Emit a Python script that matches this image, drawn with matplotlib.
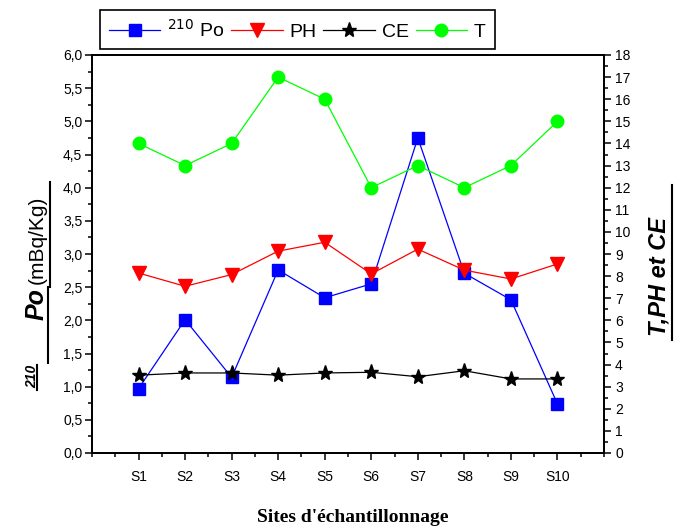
import numpy as np
import matplotlib
matplotlib.use('Agg')
import matplotlib.pyplot as plt
from matplotlib.lines import Line2D
from matplotlib.ticker import MultipleLocator, FuncFormatter

plt.rcParams['font.family'] = 'Liberation Sans'

# data
sites = ['S1', 'S2', 'S3', 'S4', 'S5', 'S6', 'S7', 'S8', 'S9', 'S10']
po210 = [0.97, 2.01, 1.14, 2.76, 2.34, 2.55, 4.75, 2.71, 2.31, 0.74]
ph = [8.14, 7.54, 8.07, 9.13, 9.53, 8.10, 9.22, 8.27, 7.87, 8.55]
ce = [3.52, 3.62, 3.62, 3.52, 3.62, 3.65, 3.45, 3.72, 3.35, 3.35]
temp = [14, 13, 14, 17, 16, 12, 13, 12, 13, 15]

W, H = 683, 527
fig = plt.figure(figsize=(W / 100, H / 100), dpi=100)

def fx(px):
    return px / W

def fy(py):
    return 1 - py / H

ax = fig.add_axes([fx(92), fy(453), fx(604) - fx(92), fy(55) - fy(453)])
ax2 = ax.twinx()

x = np.arange(1, len(sites) + 1)

l_po, = ax.plot(x, po210, '-s', color='#0000ff', lw=0.9, ms=8.5, mec='#0000ff')
l_ph, = ax2.plot(x, ph, '-v', color='#ff0000', lw=0.9, ms=9.5)
l_ce, = ax2.plot(x, ce, '-*', color='black', lw=0.9, ms=11)
l_t, = ax2.plot(x, temp, '-o', color='#00ff00', lw=0.9, ms=9, mec='#00ff00')

ax.set_xlim(0, 11)
ax.set_ylim(0, 6)
ax2.set_ylim(0, 18)

ax.set_xticks(x)
ax.set_xticklabels(sites)
ax.xaxis.set_minor_locator(MultipleLocator(0.5))
ax.yaxis.set_major_locator(MultipleLocator(0.5))
ax.yaxis.set_minor_locator(MultipleLocator(0.25))
ax.yaxis.set_major_formatter(FuncFormatter(lambda v, p: ('%.1f' % v).replace('.', ',')))
ax2.yaxis.set_major_locator(MultipleLocator(1))
ax2.yaxis.set_minor_locator(MultipleLocator(0.5))

for a in (ax, ax2):
    for s in a.spines.values():
        s.set_linewidth(1.3)
ax.tick_params(axis='both', which='major', direction='out', length=5, width=1.1,
               labelsize=10, pad=2)
ax.tick_params(axis='x', which='major', pad=7)
ax.tick_params(axis='both', which='minor', direction='out', length=3, width=1.1)
ax2.tick_params(axis='y', which='major', direction='out', length=5, width=1.1,
                labelsize=10, pad=3)
ax2.tick_params(axis='y', which='minor', direction='out', length=3, width=1.1)

# left label, pieced together with underlines
fig.text(fx(32), fy(376), '210', rotation=90, ha='center', va='center',
         fontsize=10, fontweight='bold', fontstyle='italic')
fig.text(fx(37), fy(304), 'Po', rotation=90, ha='center', va='center',
         fontsize=18, fontweight='bold', fontstyle='italic')
fig.text(fx(37.5), fy(240), '(mBq/Kg)', rotation=90, ha='center', va='center',
         fontsize=15)
for x0, y0, y1 in [(50, 182, 287), (48, 287, 363), (37, 365, 390)]:
    fig.add_artist(Line2D([fx(x0), fx(x0)], [fy(y0), fy(y1)], color='black',
                          lw=1.5, transform=fig.transFigure))

# right label
fig.text(fx(659), fy(277), 'T,PH et CE', rotation=90, ha='center', va='center',
         fontsize=17, fontweight='bold', fontstyle='italic')
fig.add_artist(Line2D([fx(672), fx(672)], [fy(185), fy(340)], color='black',
                      lw=1.5, transform=fig.transFigure))

fig.text(fx(353), fy(517), "Sites d'échantillonnage", ha='center', va='center',
         fontsize=14, fontweight='bold', family='Liberation Serif')

leg = fig.legend([l_po, l_ph, l_ce, l_t], ['$^{210}$ Po', 'PH', 'CE', 'T'],
                 loc='upper left', bbox_to_anchor=(fx(100), fy(10)), ncol=4,
                 fontsize=14, handlelength=2.65, columnspacing=0.35,
                 handletextpad=0.35, borderpad=0.45, borderaxespad=0,
                 fancybox=False, edgecolor='black', framealpha=1)
leg.get_frame().set_linewidth(1.2)

fig.savefig('out.png', dpi=100)
